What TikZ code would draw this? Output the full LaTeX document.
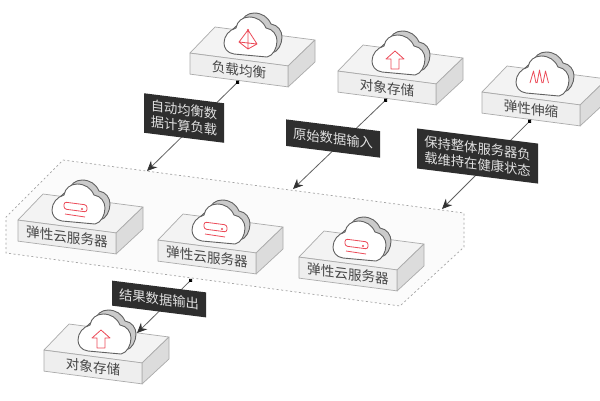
\documentclass[tikz,border=0pt]{standalone}
\usepackage{fontspec}
\newfontfamily\cjk{Noto Sans CJK SC}
\usetikzlibrary{arrows.meta}
\definecolor{edgegray}{HTML}{ABABAB}
\definecolor{topface}{HTML}{F3F3F3}
\definecolor{frontface}{HTML}{EEEEEE}
\definecolor{sideface}{HTML}{DCDCDC}
\definecolor{cloudback}{HTML}{CBCBCB}
\definecolor{iconred}{HTML}{EC4A58}
\definecolor{tagdark}{HTML}{2E2E2E}
\tikzset{
  face/.style={draw=edgegray,line width=0.7pt,line join=round},
  facelabel/.style={draw=edgegray,line width=0.7pt,fill=frontface,inner sep=0pt,
    minimum width=98pt,minimum height=21pt,text=black!72,
    font=\cjk\fontsize{13.6}{16}\selectfont,yslant=-0.13,transform shape},
  cloudline/.style={draw=black!62,line width=0.9pt,line join=round},
  icon/.style={draw=iconred,line width=0.8pt,line join=round},
  tag/.style={fill=tagdark,text=white!88!black,inner sep=0pt,align=center,
    font=\cjk\fontsize{13.3}{16}\selectfont,yslant=-0.125,transform shape},
  linkdot/.style={draw=black!62,line width=0.8pt,{Circle[length=4pt,color=black]}-{Stealth[length=10pt,width=9pt,color=black!80]}}
}
% Cloud outline in block-local units
\newcommand{\cloudpath}{(44,1) .. controls (37,0) and (34,-5) .. (34,-10)
  .. controls (34,-17) and (39,-23) .. (46,-25)
  .. controls (47,-32) and (53,-36) .. (59,-36)
  .. controls (67,-36) and (73,-32) .. (76,-25)
  .. controls (83,-24) and (87,-18) .. (87,-12)
  .. controls (87,-5) and (83,3) .. (77,4) -- cycle}
% Block with cloud: name, x, y, caption, icon
\newcommand{\cloudblock}[5]{
  \begin{scope}[shift={(#2,#3)}]
    \path[face,fill=topface] (0,0) -- (25,-26) -- (125,-13) -- (98,13) -- cycle;
    \path[face,fill=sideface] (98,13) -- (125,-13) -- (125,9) -- (98,34) -- cycle;
    \node[shift={(49,17)},facelabel] (#1) at (0,0) {#4};
    \path[cloudline,fill=cloudback,shift={(5,-4)}] \cloudpath;
    \path[cloudline,fill=white] \cloudpath;
    #5
  \end{scope}
}
\newcommand{\iconbalance}{\path[icon] (58,-23) -- (49,-11) -- (58,-4) -- (67,-9) -- cycle
  (58,-23) -- (58,-4) (49,-11) -- (67,-9);
  \fill[iconred] (58,-23) circle (1.2);}
\newcommand{\iconup}{\path[icon] (57,-20) -- (48,-12) -- (53,-12) -- (53,-2)
  -- (61,-2) -- (61,-12) -- (66,-12) -- cycle;}
\newcommand{\iconscale}{\path[icon] (48,-9) -- (51.5,-21) -- (54,-9)
  (55,-9) -- (57.5,-22) -- (60,-9) (61,-9) -- (63.5,-21) -- (66.5,-9);}
\newcommand{\iconserver}{\path[icon,rounded corners=2.5pt] (46,-18) -- (69,-15) -- (69,-8) -- (46,-11) -- cycle;
  \path[icon] (47,-6) -- (67,-3);
  \fill[iconred] (64,-11) circle (1.2);}
\begin{document}
\begin{tikzpicture}[x=1pt,y=-1pt]
  \useasboundingbox (0,0) rectangle (600,400);
  \fill[white] (0,0) rectangle (600,400);

  % Dashed group around the servers
  \path[fill=black!1.5,draw=black!36,dash pattern=on 2pt off 2.5pt,line width=0.7pt]
    (63,160) -- (464,213) -- (464,247) -- (400,306) -- (6,253) -- (6,217) -- cycle;
  \coordinate (tipa) at (147,171);
  \coordinate (tipb) at (293,189);
  \coordinate (tipc) at (442,209);
  \coordinate (tipd) at (137,333);
  \coordinate (groupout) at (192,279);

  \cloudblock{lb}{190}{53}{负载均衡}{\iconbalance}
  \cloudblock{osstop}{338}{71}{对象存储}{\iconup}
  \cloudblock{scale}{482}{92}{弹性伸缩}{\iconscale}
  \cloudblock{ecsa}{18}{220}{弹性云服务器}{\iconserver}
  \cloudblock{ecsb}{158}{240}{弹性云服务器}{\iconserver}
  \cloudblock{ecsc}{299}{257}{弹性云服务器}{\iconserver}
  \cloudblock{ossbottom}{44}{350}{对象存储}{\iconup}

  % Connectors run underneath the dark captions
  \draw[linkdot] (lb.south) -- (tipa);
  \draw[linkdot] (osstop.south) -- (tipb);
  \draw[linkdot] (scale.south) -- (tipc);
  \draw[linkdot] (groupout) -- (tipd);

  \node[shift={(184,118)},tag,minimum width=80pt,minimum height=39.5pt] (taga) at (0,0) {自动均衡数\\据计算负载};
  \node[shift={(333,138.5)},tag,minimum width=94pt,minimum height=26.5pt] (tagb) at (0,0) {原始数据输入};
  \node[shift={(477.5,156)},tag,minimum width=121pt,minimum height=40pt] (tagc) at (0,0) {保持整体服务器负\\载维持在健康状态};
  \node[shift={(159,299)},tag,minimum width=94pt,minimum height=25pt] (tagd) at (0,0) {结果数据输出};
\end{tikzpicture}
\end{document}
